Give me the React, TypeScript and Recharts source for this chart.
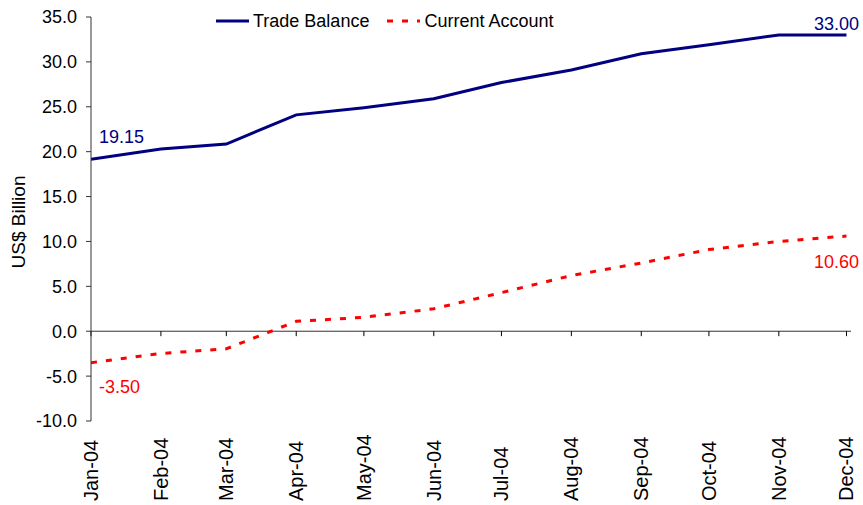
import React from 'react';
import { LineChart, Line, XAxis, YAxis, ReferenceLine, LabelList } from 'recharts';

const monthLabels = ['Jan-04', 'Feb-04', 'Mar-04', 'Apr-04', 'May-04', 'Jun-04', 'Jul-04', 'Aug-04', 'Sep-04', 'Oct-04', 'Nov-04', 'Dec-04'];
const monthDates = ['2004-01-01', '2004-02-01', '2004-03-01', '2004-04-01', '2004-05-01', '2004-06-01', '2004-07-01', '2004-08-01', '2004-09-01', '2004-10-01', '2004-11-01', '2004-12-01'];
const tradeBalance = [19.15, 20.3, 20.85, 24.1, 24.9, 25.9, 27.7, 29.1, 30.9, 31.9, 33.0, 33.0];
const currentAccount = [-3.5, -2.48, -1.96, 1.1, 1.55, 2.5, 4.3, 6.2, 7.6, 9.1, 10.0, 10.6];
const yTicks = [-10, -5, 0, 5, 10, 15, 20, 25, 30, 35];
const seriesNames = ['Trade Balance', 'Current Account'];

const FONT = '"Liberation Sans", Arial, sans-serif';
const NAVY = '#000080';
const RED = '#FF0000';

const times = monthDates.map((d) => Date.parse(d + 'T00:00:00Z'));
const data = times.map((t, i) => ({ t, trade: tradeBalance[i], ca: currentAccount[i] }));
const DAY = 86400000;

const MonthTick = (props: any) => {
  const { x, payload } = props;
  const idx = times.indexOf(payload.value);
  const by = 501;
  return (
    <text
      x={x}
      y={by}
      transform={`rotate(-90, ${x}, ${by})`}
      textAnchor="start"
      dy="0.35em"
      fontSize={20}
      fontFamily={FONT}
      fill="#000"
    >
      {idx >= 0 ? monthLabels[idx] : ''}
    </text>
  );
};

const makeEndLabel = (color: string, first: { dx: number; dy: number }, last: { dx: number; dy: number }) => (props: any) => {
  const { x, y, index, value } = props;
  const n = data.length;
  if (index !== 0 && index !== n - 1) return null;
  const isFirst = index === 0;
  const off = isFirst ? first : last;
  return (
    <text
      x={isFirst ? x + off.dx : 859}
      y={y + off.dy}
      textAnchor={isFirst ? 'start' : 'end'}
      fontSize={18}
      fontFamily={FONT}
      fill={color}
    >
      {Number(value).toFixed(2)}
    </text>
  );
};

const LegendBox = () => (
  <div
    style={{
      position: 'absolute',
      left: 216,
      top: 11,
      display: 'flex',
      alignItems: 'center',
      fontFamily: FONT,
      fontSize: 18,
      lineHeight: '20px',
      color: '#000',
      whiteSpace: 'nowrap',
    }}
  >
    <svg width={33} height={6} style={{ display: 'block' }}>
      <line x1={0} y1={3} x2={33} y2={3} stroke={NAVY} strokeWidth={3} />
    </svg>
    <span style={{ marginLeft: 4, marginRight: 18 }}>{seriesNames[0]}</span>
    <svg width={33} height={6} style={{ display: 'block' }}>
      <line x1={0} y1={3} x2={33} y2={3} stroke={RED} strokeWidth={3} strokeDasharray="6 9" />
    </svg>
    <span style={{ marginLeft: 4 }}>{seriesNames[1]}</span>
  </div>
);

const YLabel = (props: any) => {
  const vb = props.viewBox || { x: 0, y: 17, width: 91, height: 404 };
  const cx = 18;
  const cy = vb.y + vb.height / 2 + 3;
  return (
    <text x={cx} y={cy} transform={`rotate(-90, ${cx}, ${cy})`} textAnchor="middle" dy="0.35em" fontSize={19} fontFamily={FONT} fill="#000">
      US$ Billion
    </text>
  );
};

export default function App() {
  return (
    <div style={{ position: 'absolute', left: 0, top: 0, width: 863, height: 505, background: '#fff' }}>
      <LineChart width={863} height={505} data={data} margin={{ top: 17, right: 12, bottom: 0, left: 0 }}>
        <XAxis
          dataKey="t"
          type="number"
          domain={[times[0], times[times.length - 1] + 2 * DAY]}
          ticks={times}
          interval={0}
          height={84}
          axisLine={false}
          tickLine={false}
          tick={<MonthTick />}
          allowDataOverflow
        />
        <YAxis
          type="number"
          domain={[-10, 35]}
          ticks={yTicks}
          interval={0}
          width={91}
          tickFormatter={(v: number) => v.toFixed(1)}
          tick={{ fontSize: 18, fontFamily: FONT, fill: '#000' }}
          tickSize={5}
          tickMargin={9}
          axisLine={{ stroke: '#333' }}
          tickLine={{ stroke: '#333' }}
          label={<YLabel />}
        />
        <ReferenceLine y={0} stroke="#333" />
        {times.map((t) => (
          <ReferenceLine key={t} segment={[{ x: t, y: 0 }, { x: t, y: -0.55 }]} stroke="#000" />
        ))}
        <Line type="linear" dataKey="trade" name={seriesNames[0]} stroke={NAVY} strokeWidth={3} dot={false} activeDot={false} isAnimationActive={false}>
          <LabelList dataKey="trade" content={makeEndLabel(NAVY, { dx: 8, dy: -16.5 }, { dx: 0, dy: -5 })} />
        </Line>
        <Line type="linear" dataKey="ca" name={seriesNames[1]} stroke={RED} strokeWidth={3} strokeDasharray="6 9" dot={false} activeDot={false} isAnimationActive={false}>
          <LabelList dataKey="ca" content={makeEndLabel(RED, { dx: 8, dy: 30 }, { dx: 0, dy: 32 })} />
        </Line>
      </LineChart>
      <LegendBox />
    </div>
  );
}
